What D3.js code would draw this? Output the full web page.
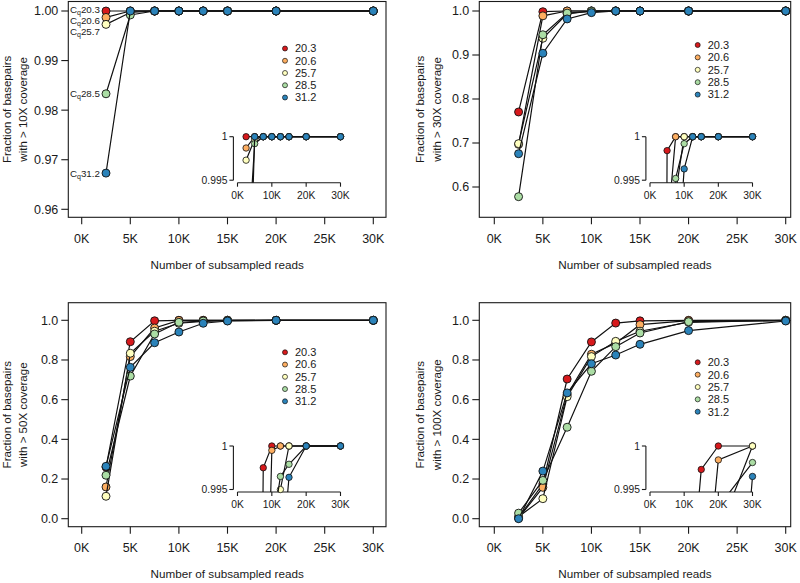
<!DOCTYPE html>
<html>
<head>
<meta charset="utf-8">
<script src="https://cdn.jsdelivr.net/npm/d3@7"></script>
<style>
  html, body { margin: 0; padding: 0; background: #fff; }
  svg { display: block; font-family: "Liberation Sans", Arial, Helvetica, sans-serif; }
</style>
</head>
<body>
<svg id="chart" width="800" height="583"></svg>
<script>
// ---------------- DATA ----------------
const reads = [2500, 5000, 7500, 10000, 12500, 15000, 20000, 30000];
const cqLabels = ["20.3", "20.6", "25.7", "28.5", "31.2"];
const seriesColors = ["#D7191C", "#FDAE61", "#FFFFBF", "#ABDDA4", "#2B83BA"];
const xTicks = [0, 5000, 10000, 15000, 20000, 25000, 30000];
const insetXTicks = [0, 10000, 20000, 30000];
const insetYTicks = [0.995, 1];

const yTicks10 = [0.96, 0.97, 0.98, 0.99, 1.00];
const yTicks30 = [0.6, 0.7, 0.8, 0.9, 1.0];
const yTicks50 = [0.0, 0.2, 0.4, 0.6, 0.8, 1.0];
const yTicks100 = [0.0, 0.2, 0.4, 0.6, 0.8, 1.0];

// fraction of basepairs with > 10X coverage (rows follow cqLabels)
const cov10 = [
  [1.0000, 1.0000, 1, 1, 1, 1, 1, 1],
  [0.9987, 1.0000, 1, 1, 1, 1, 1, 1],
  [0.9973, 0.9997, 1, 1, 1, 1, 1, 1],
  [0.9833, 0.9992, 1, 1, 1, 1, 1, 1],
  [0.9673, 1.0000, 1, 1, 1, 1, 1, 1]
];
// > 30X
const cov30 = [
  [0.7705, 0.9984, 1.0000, 1.0000, 1, 1, 1, 1],
  [0.6970, 0.9890, 1.0000, 1.0000, 1, 1, 1, 1],
  [0.6985, 0.9380, 0.9935, 1.0000, 1, 1, 1, 1],
  [0.5780, 0.9460, 0.9952, 0.9992, 1, 1, 1, 1],
  [0.6757, 0.9040, 0.9820, 0.9963, 1, 1, 1, 1]
];
// > 50X
const cov50 = [
  [0.260, 0.892, 0.9975, 1.0000, 1.0000, 1.0000, 1, 1],
  [0.160, 0.817, 0.9610, 0.9995, 1.0000, 1.0000, 1, 1],
  [0.113, 0.834, 0.9450, 0.9850, 0.9950, 1.0000, 1, 1],
  [0.219, 0.719, 0.9310, 0.9900, 0.9965, 0.9979, 1, 1],
  [0.264, 0.763, 0.8870, 0.9410, 0.9850, 0.9964, 1, 1]
];
// > 100X
const cov100 = [
  [0.005, 0.175, 0.704, 0.891, 0.986, 0.9973, 1.0000, 1.0000],
  [0.003, 0.158, 0.625, 0.829, 0.885, 0.9780, 0.9984, 1.0000],
  [0.010, 0.101, 0.615, 0.817, 0.894, 0.9450, 0.9900, 1.0000],
  [0.028, 0.193, 0.461, 0.743, 0.867, 0.9360, 0.9930, 0.9981],
  [0.000, 0.240, 0.634, 0.781, 0.825, 0.8790, 0.9480, 0.9965]
];

const yTitles = ["with > 10X coverage", "with > 30X coverage", "with > 50X coverage", "with > 100X coverage"];

// ---------------- LAYOUT ----------------
const panels = [
  { data: cov10, yTicks: yTicks10, fmt: d3.format(".2f"), title: yTitles[0],
    box: {l: 68.3, r: 386, t: 1.5, b: 217.3}, xr: [81.7, 373.3], yr: [209.3, 11],
    legend: {x: 285, y: 48.5, dy: 12.25},
    inset: {ax: 233.4, xr: [237.5, 340.5], yr: [180.2, 136.7], axisY: 182.7},
    yTitleX: [7, 23], xLabY: 239, xTitleY: 265, cq: true },
  { data: cov30, yTicks: yTicks30, fmt: d3.format(".1f"), title: yTitles[1],
    box: {l: 479.3, r: 790.7, t: 1.5, b: 217.3}, xr: [494.3, 785.7], yr: [187, 11],
    legend: {x: 697.7, y: 45, dy: 12.4},
    inset: {ax: 645.9, xr: [650, 752.5], yr: [180.2, 136.7], axisY: 182.7},
    yTitleX: [420, 436.5], xLabY: 239, xTitleY: 265 },
  { data: cov50, yTicks: yTicks50, fmt: d3.format(".1f"), title: yTitles[2],
    box: {l: 68.3, r: 386, t: 302.7, b: 526.7}, xr: [81.7, 373.3], yr: [518.7, 320.3],
    legend: {x: 285, y: 352.3, dy: 12.25},
    inset: {ax: 233.4, xr: [237.5, 340.5], yr: [489.5, 446], axisY: 492},
    yTitleX: [7, 23], xLabY: 548, xTitleY: 574.3 },
  { data: cov100, yTicks: yTicks100, fmt: d3.format(".1f"), title: yTitles[3],
    box: {l: 479.3, r: 790.7, t: 302.7, b: 526.7}, xr: [494.3, 785.7], yr: [518.7, 320.3],
    legend: {x: 697.7, y: 362.3, dy: 12.35},
    inset: {ax: 645.9, xr: [650, 752.5], yr: [489.5, 446], axisY: 492},
    yTitleX: [420, 436.5], xLabY: 548, xTitleY: 574.3 }
];

const svg = d3.select("#chart");
const kFmt = d => (d / 1000) + "K";
const ink = "#1a1a1a";

panels.forEach((p, pi) => {
  const g = svg.append("g");
  const x = d3.scaleLinear().domain([0, 30000]).range(p.xr);
  const y = d3.scaleLinear().domain([p.yTicks[0], p.yTicks[p.yTicks.length - 1]]).range(p.yr);
  const B = p.box;

  const cid = "clip" + pi;
  svg.append("clipPath").attr("id", cid).append("rect")
    .attr("x", B.l).attr("y", B.t).attr("width", B.r - B.l).attr("height", B.b - B.t);

  g.append("rect").attr("x", B.l).attr("y", B.t).attr("width", B.r - B.l).attr("height", B.b - B.t)
    .attr("fill", "none").attr("stroke", ink).attr("stroke-width", 1.1);

  p.yTicks.forEach(t => {
    g.append("line").attr("x1", B.l - 7).attr("x2", B.l).attr("y1", y(t)).attr("y2", y(t))
      .attr("stroke", ink).attr("stroke-width", 1.1);
    g.append("text").attr("x", B.l - 10).attr("y", y(t)).attr("dy", "0.35em")
      .attr("text-anchor", "end").attr("font-size", 12.5).attr("fill", ink).text(p.fmt(t));
  });
  xTicks.forEach(t => {
    g.append("line").attr("x1", x(t)).attr("x2", x(t)).attr("y1", B.b).attr("y2", B.b + 7)
      .attr("stroke", ink).attr("stroke-width", 1.1);
    g.append("text").attr("x", x(t)).attr("y", p.xLabY).attr("dy", "0.35em")
      .attr("text-anchor", "middle").attr("font-size", 12.5).attr("fill", ink).text(kFmt(t));
  });
  g.append("text").attr("x", (B.l + B.r) / 2).attr("y", p.xTitleY).attr("dy", "0.35em")
    .attr("text-anchor", "middle").attr("font-size", 11.7).attr("fill", ink).text("Number of subsampled reads");
  const cy = (B.t + B.b) / 2;
  ["Fraction of basepairs", p.title].forEach((s, i) => {
    g.append("text").attr("transform", `translate(${p.yTitleX[i]},${cy}) rotate(-90)`)
      .attr("dy", "0.35em").attr("text-anchor", "middle").attr("font-size", 11.5).attr("fill", ink).text(s);
  });

  const line = d3.line().x((d, i) => x(reads[i])).y(d => y(d));
  const plot = g.append("g").attr("clip-path", `url(#${cid})`);
  p.data.forEach((vals, si) => {
    plot.append("path").attr("d", line(vals)).attr("fill", "none").attr("stroke", "#111").attr("stroke-width", 1.2);
    plot.selectAll(null).data(vals).enter().append("circle")
      .attr("cx", (d, i) => x(reads[i])).attr("cy", d => y(d)).attr("r", 4)
      .attr("fill", seriesColors[si]).attr("stroke", "#111").attr("stroke-width", 0.9);
  });

  if (p.cq) {
    const nudge = [-1.5, 2.7, 6.7, 0, 0];
    p.data.forEach((vals, si) => {
      const t = g.append("text").attr("x", x(reads[0]) - 6).attr("y", y(vals[0]) + nudge[si]).attr("dy", "0.35em")
        .attr("text-anchor", "end").attr("font-size", 9.8).attr("fill", ink);
      t.append("tspan").text("C");
      t.append("tspan").attr("font-size", 7).attr("baseline-shift", "-2").text("q");
      t.append("tspan").text(cqLabels[si]);
    });
  }

  cqLabels.forEach((lab, si) => {
    const ly = p.legend.y + si * p.legend.dy;
    g.append("circle").attr("cx", p.legend.x).attr("cy", ly).attr("r", 2.5)
      .attr("fill", seriesColors[si]).attr("stroke", "#111").attr("stroke-width", 0.7);
    g.append("text").attr("x", p.legend.x + 10).attr("y", ly).attr("dy", "0.35em")
      .attr("font-size", 11).attr("fill", ink).text(lab);
  });

  const I = p.inset;
  const ix = d3.scaleLinear().domain([0, 30000]).range(I.xr);
  const iy = d3.scaleLinear().domain([0.995, 1]).range(I.yr);
  const icid = "iclip" + pi;
  svg.append("clipPath").attr("id", icid).append("rect")
    .attr("x", I.ax).attr("y", I.yr[1] - 8).attr("width", I.xr[1] - I.ax + 8).attr("height", I.axisY - (I.yr[1] - 8));
  const ig = g.append("g");
  ig.append("line").attr("x1", I.ax).attr("x2", I.ax).attr("y1", iy(1)).attr("y2", iy(0.995)).attr("stroke", ink).attr("stroke-width", 1.1);
  insetYTicks.forEach(t => {
    ig.append("line").attr("x1", I.ax - 4).attr("x2", I.ax).attr("y1", iy(t)).attr("y2", iy(t)).attr("stroke", ink).attr("stroke-width", 1.1);
    ig.append("text").attr("x", I.ax - 6).attr("y", iy(t)).attr("dy", "0.35em").attr("text-anchor", "end")
      .attr("font-size", 10.3).attr("fill", ink).text(d3.format("")(t));
  });
  ig.append("line").attr("x1", ix(0)).attr("x2", ix(30000)).attr("y1", I.axisY).attr("y2", I.axisY).attr("stroke", ink).attr("stroke-width", 1.1);
  insetXTicks.forEach(t => {
    ig.append("line").attr("x1", ix(t)).attr("x2", ix(t)).attr("y1", I.axisY).attr("y2", I.axisY + 4).attr("stroke", ink).attr("stroke-width", 1.1);
    ig.append("text").attr("x", ix(t)).attr("y", I.axisY + 12.5).attr("dy", "0.35em").attr("text-anchor", "middle")
      .attr("font-size", 10.3).attr("fill", ink).text(kFmt(t));
  });
  const iline = d3.line().x((d, i) => ix(reads[i])).y(d => iy(d));
  const iplot = ig.append("g");
  p.data.forEach((vals, si) => {
    iplot.append("path").attr("d", iline(vals)).attr("clip-path", `url(#${icid})`)
      .attr("fill", "none").attr("stroke", "#111").attr("stroke-width", 1.2);
    const pts = vals.map((v, i) => ({v, i})).filter(d => d.v >= 0.9949);
    iplot.selectAll(null).data(pts).enter().append("circle")
      .attr("cx", d => ix(reads[d.i])).attr("cy", d => iy(d.v)).attr("r", 3.2)
      .attr("fill", seriesColors[si]).attr("stroke", "#111").attr("stroke-width", 0.8);
  });
});
</script>
</body>
</html>
